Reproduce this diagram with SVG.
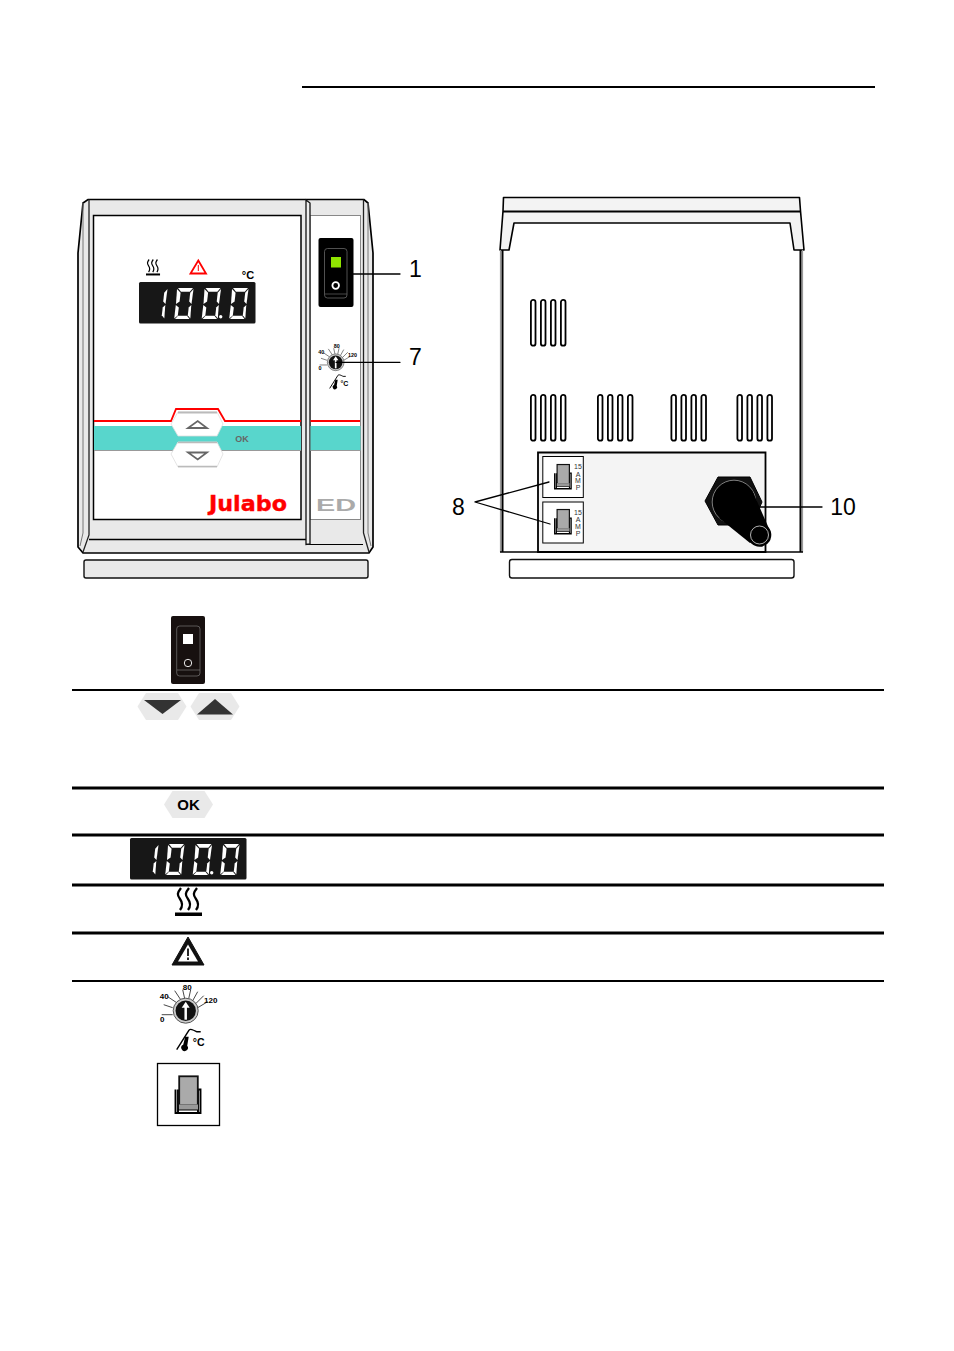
<svg xmlns="http://www.w3.org/2000/svg" xmlns:xlink="http://www.w3.org/1999/xlink" width="954" height="1351" viewBox="0 0 954 1351">
<style>
.l{font-family:"Liberation Sans",Arial,sans-serif}
.num{font-size:23px;fill:#000}
.k{stroke:#000;fill:none;stroke-linecap:round;stroke-linejoin:round}
.rule{stroke:#000;fill:none}
.g{fill:#e9e9e9}
.slot{fill:#fff;stroke:#000;stroke-width:1.800}
</style>
<defs>
<g id="seg"><polygon points="5,0 20,0 16.800,3.800 8,3.800"/><polygon points="4,1 7.600,4.800 6.600,13.500 3,16"/><polygon points="2.800,17 5.800,19.500 4.800,27.500 1.200,30.500"/><polygon points="2,31 5,27.800 14,27.800 16.500,31"/><polygon points="17.300,30.500 14.800,27.200 15.700,19.500 18.300,17"/><polygon points="18.500,16 16.200,13.500 17.200,4.800 20.500,1"/></g>
<g id="one"><polygon points="17.300,30.500 14.800,27.200 15.700,19.500 18.300,17"/><polygon points="18.500,16 16.200,13.500 17.200,4.800 20.500,1"/></g>
<g id="display" fill="#fff"><rect width="116.500" height="41.500" rx="1.500" fill="#171717"/><use xlink:href="#one" x="8" y="6"/><use xlink:href="#seg" x="34" y="6"/><use xlink:href="#seg" x="61.500" y="6"/><use xlink:href="#seg" x="89" y="6"/><circle cx="81.700" cy="34.800" r="1.700"/></g>
<g id="heat"><path d="M6 0C2 5 2 7 5 11S8 18 5 22M14 0C10 5 10 7 13 11S16 18 13 22M22 0C18 5 18 7 21 11S24 18 21 22" fill="none" stroke="#000" stroke-width="2.300"/><rect x="0" y="24.500" width="27" height="3.500" fill="#000"/></g>
<g id="dial"><g stroke="#333" stroke-width=".9"><path d="M-24 4H-13M-22-6-13-3M-18-14-9-8M-11-20-5-11M-3-21-1-12M5-21 3-12M12-19 7-10M18-15 10-7M22-9 12-3"/></g><circle r="12.500" fill="#ccc" stroke="#555"/><circle r="10.200" fill="#111"/><path d="M0 9V-4" stroke="#fff" stroke-width="2.500"/><path d="M-4-3 0-9 4-3Z" fill="#fff"/><g class="l" font-size="8" font-weight="700" text-anchor="middle"><text x="-23.500" y="11">0</text><text x="-21.500" y="-12">40</text><text x="1.500" y="-21">80</text><text x="25" y="-8">120</text></g><path d="M-9 39 3 20C4 17 9 20 11 21H15" fill="none" stroke="#000" stroke-width="1.400"/><path d="M-.5 26-2.500 34A3.300 3.300 0 1 0 1.500 35L3 26Z" fill="#000"/><text class="l" x="7" y="35" font-size="10.500" font-weight="700">°C</text></g>
<g id="fuse"><path d="M1 14V37.500H26V14H23.500V37.500M3.500 37.500V14M3.500 28.500H23.500M3.500 34H23.500" fill="none" stroke="#000" stroke-width="1.900"/><rect x="4.700" y=".8" width="18.600" height="29" fill="#aaa" stroke="#111" stroke-width="1.800"/><rect x="4.500" y="29" width="19" height="5" fill="#999"/></g>
<g id="vents"><rect class="slot" x="0.900" y="0.900" width="4.600" height="45.800" rx="2.300"/><rect class="slot" x="10.900" y="0.900" width="4.600" height="45.800" rx="2.300"/><rect class="slot" x="20.900" y="0.900" width="4.600" height="45.800" rx="2.300"/><rect class="slot" x="30.900" y="0.900" width="4.600" height="45.800" rx="2.300"/></g>
<polygon id="hex" points="-24.500,0 -16,-13.500 16,-13.500 24.500,0 16,13.500 -16,13.500" class="g"/>
</defs>

<rect width="954" height="1351" fill="#fff"/>
<g id="header-rule"><path class="rule" stroke-width="2" d="M302 87H875"/></g>

<g id="front-unit">
<path d="M88 199.500H364L368 203 373 253V547L369 553H83L78 547V253L83 203Z" fill="#e9e9e9" stroke="#000" stroke-width="1.700"/>
<path d="M83 203V533L80 546M368 203V533L371 546" fill="none" stroke="#777" stroke-width="1"/>
<path d="M89 199.500V535L83 552M363.500 199.500V533L369 552" fill="none" stroke="#222" stroke-width="1.300"/>
<path d="M89 539.500H306" stroke="#000" stroke-width="1.700" fill="none"/>
<path d="M306 544.500H363" stroke="#000" stroke-width="1" fill="none"/>
<rect x="93.500" y="215.500" width="207.500" height="304" fill="#fff" stroke="#000" stroke-width="1.500"/>
<rect x="310" y="215.500" width="50.500" height="304" fill="#fff" stroke="#888" stroke-width="1"/>
<path d="M306 200 310 203V544L306 544.500Z" fill="#eee" stroke="#111" stroke-width="1.300"/>
<rect x="94" y="426" width="207" height="24.500" fill="#58d6cc"/><rect x="310.500" y="426" width="50" height="24.500" fill="#58d6cc"/>
<path d="M94 450.500H301M310.500 450.500H360.500" stroke="#999" stroke-width="1" fill="none"/>
<path d="M94 421H171L176 409H218L225 421H301M310.500 421H360" fill="none" stroke="#f00" stroke-width="1.800"/>
<polygon points="171,424 178,412 217,412 223,424 217,436 178,436" fill="#fff" stroke="#ddd" stroke-width=".8"/>
<path d="M178 412.500H217" stroke="#bbb" stroke-width="2"/>
<polygon points="171,454 178,442 217,442 223,454 217,467 178,467" fill="#fff" stroke="#ddd" stroke-width=".8"/>
<path d="M178 442.500H217M178 466.500H217" stroke="#bbb" stroke-width="1.500"/>
<path d="M188 428H207L197.700 421ZM188 452.500H207L197.700 459.500Z" fill="none" stroke="#666" stroke-width="1.800"/>
<text class="l" x="242" y="441.500" font-size="9" font-weight="700" text-anchor="middle" fill="#666">OK</text>
<use xlink:href="#heat" transform="translate(146,259.500) scale(.52,.57)"/>
<polygon points="198.300,260.500 206,273.500 190.500,273.500" fill="#fff" stroke="#f00" stroke-width="1.800"/>
<path d="M198.300 265V271" stroke="#f00" stroke-width="1"/>
<text class="l" x="248" y="279" font-size="11" font-weight="700" text-anchor="middle">°C</text>
<use xlink:href="#display" x="139" y="282"/>
<text x="209" y="510.500" font-family="'DejaVu Sans',sans-serif" font-size="22" font-weight="700" fill="#f00" stroke="#f00" stroke-width=".4" textLength="78" lengthAdjust="spacingAndGlyphs">Julabo</text>
<text class="l" x="316" y="511" font-size="16" font-weight="700" fill="#aaa" textLength="40" lengthAdjust="spacingAndGlyphs">ED</text>
<rect x="318.500" y="238" width="35" height="69" rx="2" fill="#000"/>
<rect x="324.500" y="248.500" width="22.500" height="49.500" rx="3" fill="none" stroke="#666" stroke-width=".8"/>
<path d="M325 294H347" stroke="#666" stroke-width=".7"/>
<rect x="331" y="257" width="10" height="10.500" fill="#8fe400"/>
<circle cx="335.700" cy="285.500" r="3.300" fill="none" stroke="#fff" stroke-width="1.800"/>
<use xlink:href="#dial" transform="translate(335.700,362.300) scale(.67)"/>
<rect x="84" y="560" width="284" height="18" rx="2" fill="#e9e9e9" stroke="#111" stroke-width="1.400"/>
</g>

<g id="rear-unit">
<path d="M503.500 197.500H799.500L800.500 211 804 250H794L790 223H514L509 250H500L503 211Z" fill="#f3f3f3" stroke="#000" stroke-width="1.600" stroke-linejoin="round"/>
<path d="M503 211.500H800.500" stroke="#000" stroke-width="1.800" fill="none"/>
<path d="M500.500 250V552M802.500 250V552" stroke="#999" stroke-width="1.200" fill="none"/>
<path d="M502.500 250V552M800.500 250V552" stroke="#000" stroke-width="2" fill="none"/>
<path d="M500 552H803" stroke="#000" stroke-width="1.300" fill="none"/>
<use xlink:href="#vents" x="530" y="299"/>
<use xlink:href="#vents" x="530" y="394"/><use xlink:href="#vents" x="597" y="394"/><use xlink:href="#vents" x="670.500" y="394"/><use xlink:href="#vents" x="736.500" y="394"/>
<path d="M538 552V452.500H765.500V552Z" fill="#f4f4f4" stroke="#000" stroke-width="1.800"/>
<g id="fuse-1"><rect x="542.800" y="456.500" width="40.500" height="41" fill="#fff" stroke="#000" stroke-width="1"/><use xlink:href="#fuse" transform="translate(554,464) scale(.66)"/><g class="l" font-size="7" text-anchor="middle" fill="#333"><text x="578" y="469">15</text><text x="578" y="476.500">A</text><text x="578" y="483">M</text><text x="578" y="490">P</text></g></g>
<g id="fuse-2"><rect x="542.800" y="502" width="40.500" height="41" fill="#fff" stroke="#000" stroke-width="1"/><use xlink:href="#fuse" transform="translate(554,509) scale(.66)"/><g class="l" font-size="7" text-anchor="middle" fill="#333"><text x="578" y="514.500">15</text><text x="578" y="522">A</text><text x="578" y="528.500">M</text><text x="578" y="535.500">P</text></g></g>
<polygon points="718,477 750,477 762,502 752,525 718,525 705,501" fill="#111" stroke="#000"/>
<circle cx="734" cy="502" r="21.800" fill="#000" stroke="#ccc" stroke-width=".6"/>
<path d="M752 490 771 533 750 543 719 518Z" fill="#000"/>
<circle cx="759.500" cy="535" r="11.800" fill="#000"/>
<circle cx="759.500" cy="535" r="9" fill="#000" stroke="#ddd" stroke-width=".8"/>
<rect x="509.500" y="559.500" width="284.500" height="18.500" rx="2.500" fill="#fff" stroke="#111" stroke-width="1.400"/>
</g>

<g id="connectors">
<path class="k" stroke-width="1.300" d="M353 274H400M336 362.300H400M760 507H822M549 482 475 502 550 524"/>
</g>
<g id="callouts" class="l">
<text class="num" x="415.500" y="277" text-anchor="middle">1</text>
<text class="num" x="415.500" y="364.500" text-anchor="middle">7</text>
<text class="num" x="458.500" y="515" text-anchor="middle">8</text>
<text class="num" x="843" y="515" text-anchor="middle">10</text>
</g>

<g id="table-rules" class="rule">
<path stroke-width="2" d="M72 690H884"/><path stroke-width="3" d="M72 788H884"/><path stroke-width="3" d="M72 835H884"/><path stroke-width="3" d="M72 885H884"/><path stroke-width="3" d="M72 933H884"/><path stroke-width="2" d="M72 981H884"/>
</g>
<g id="symbol-switch">
<rect x="171" y="616" width="34" height="68" rx="2" fill="#17100f"/>
<rect x="176.700" y="626" width="23.300" height="50" rx="3" fill="none" stroke="#888" stroke-width=".6"/>
<path d="M177 670H200" stroke="#888" stroke-width=".6"/>
<rect x="183" y="634" width="10" height="10" fill="#fff"/>
<circle cx="188" cy="663" r="3.700" fill="none" stroke="#fff" stroke-width=".9"/>
</g>
<g id="symbol-arrows">
<use xlink:href="#hex" x="162" y="706.500"/><use xlink:href="#hex" x="215" y="706.500"/>
<polygon points="144,700 181,700 162.500,714" fill="#333"/><polygon points="197,714.500 233,714.500 215,699" fill="#333"/>
</g>
<g id="symbol-ok">
<use xlink:href="#hex" x="188.500" y="804.500"/>
<text class="l" x="188.500" y="810" font-size="15" font-weight="700" text-anchor="middle">OK</text>
</g>
<g id="symbol-display"><use xlink:href="#display" x="130" y="838"/></g>
<g id="symbol-heat"><use xlink:href="#heat" x="175" y="888"/></g>
<g id="symbol-warning">
<path d="M188 937 204 965H172Z" fill="#111" stroke="#111" stroke-width="1" stroke-linejoin="round"/>
<path d="M188 944.500 198 961.500H178Z" fill="#fff"/>
<path d="M188 948.500V956M188 957.500V960" stroke="#111" stroke-width="1.800"/>
</g>
<g id="symbol-dial"><use xlink:href="#dial" x="185.700" y="1010.700"/></g>
<g id="symbol-fuse">
<rect x="157.500" y="1063.500" width="62" height="62" fill="#fff" stroke="#000" stroke-width="1.300"/>
<use xlink:href="#fuse" x="174.500" y="1075.500"/>
</g>
</svg>
